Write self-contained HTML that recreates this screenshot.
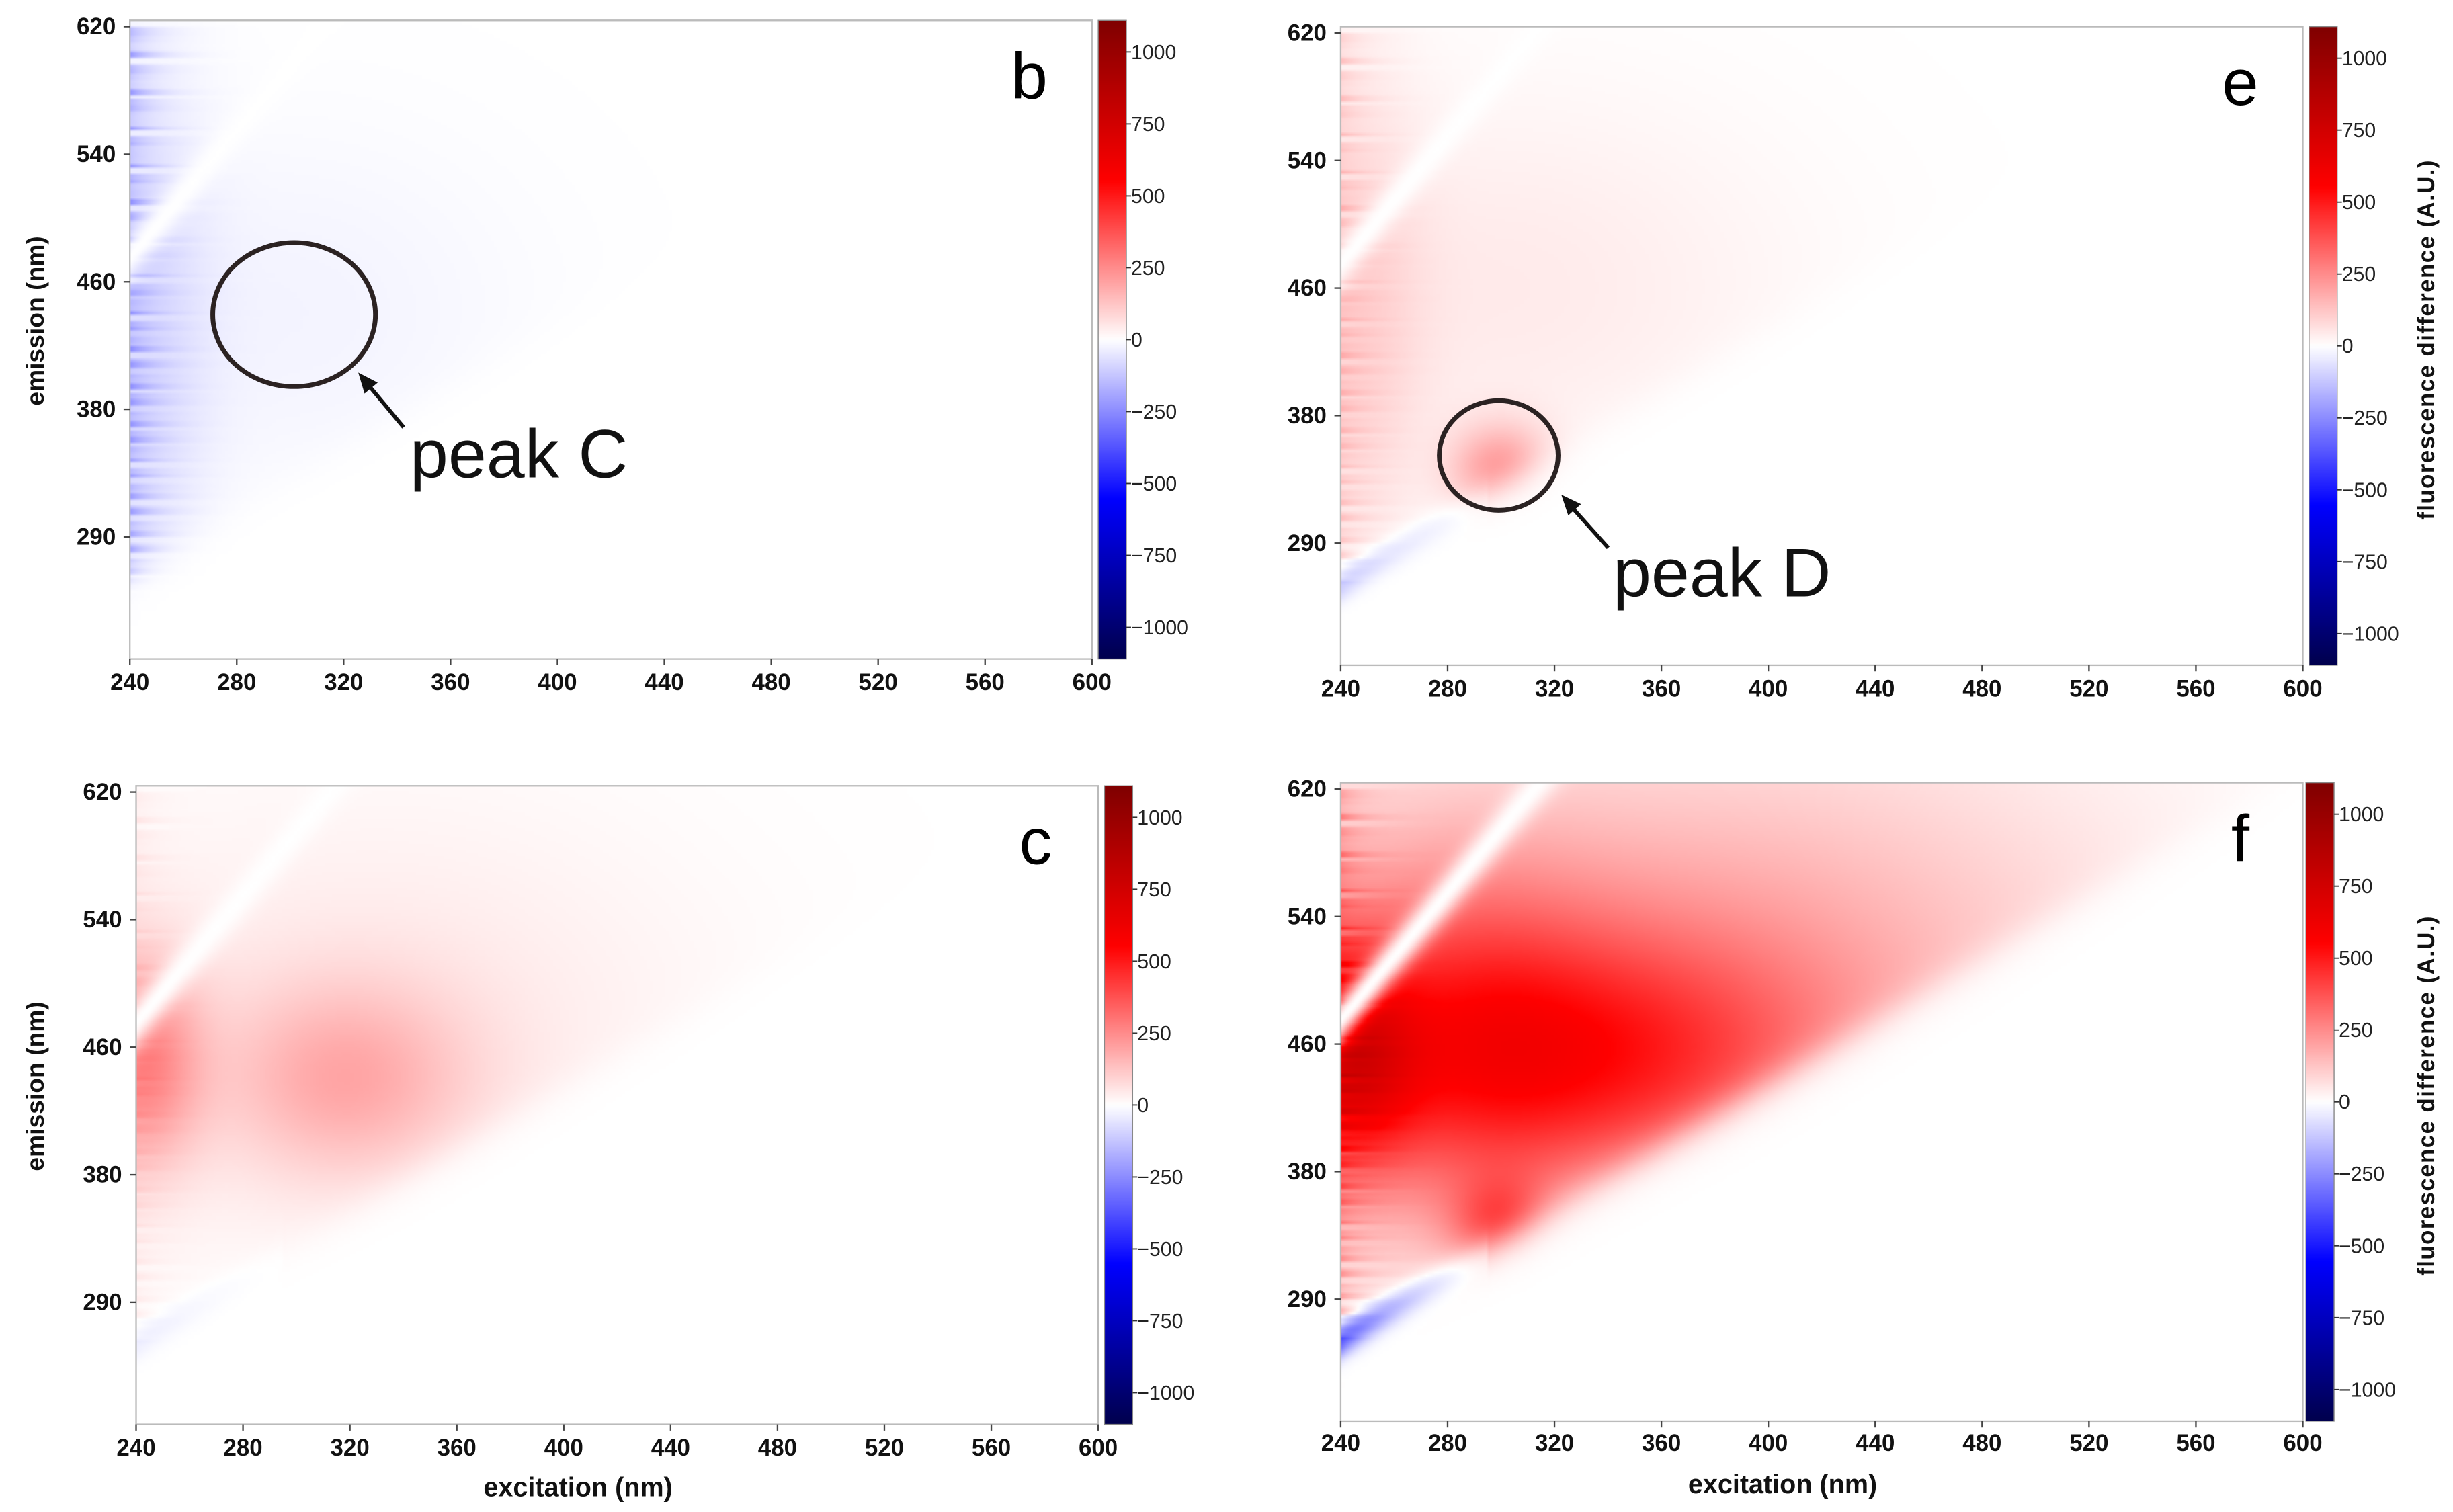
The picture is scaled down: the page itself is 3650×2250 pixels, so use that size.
<!DOCTYPE html>
<html><head><meta charset="utf-8">
<style>
html,body{margin:0;padding:0;background:#fff;}
#root{position:relative;width:1568px;height:966px;transform:scale(2.3278,2.3292);transform-origin:0 0;font-family:"Liberation Sans",sans-serif;overflow:hidden;}
canvas{position:absolute;image-rendering:auto;}
svg{position:absolute;left:0;top:0;}
</style></head>
<body>
<div id="root">
<canvas id="cv-b"></canvas>
<canvas id="cv-e"></canvas>
<canvas id="cv-c"></canvas>
<canvas id="cv-f"></canvas>
<canvas id="cb-b"></canvas>
<canvas id="cb-e"></canvas>
<canvas id="cb-c"></canvas>
<canvas id="cb-f"></canvas>
<svg id="ov" width="1568" height="966"></svg>
</div>
<script>
// ---- data ----
const exTicks = [240,280,320,360,400,440,480,520,560,600];
const emTickValues = [620,540,460,380,300];
const emTickLabels = ['620','540','460','380','290'];
const cbTicks = [1000,750,500,250,0,-250,-500,-750,-1000];
const cbTickLabels = ['1000','750','500','250','0','\u2212250','\u2212500','\u2212750','\u22121000'];
// peaks per panel: excitation, emission, amplitude, ex-spread, em-spread
const peaksB_ex = [300, 250], peaksB_em = [440, 420], peaksB_amp = [-25, -50], peaksB_sx = [60, 15], peaksB_sy = [80, 110];
const peaksE_ex = [300, 300, 250], peaksE_em = [345, 460, 430], peaksE_amp = [220, 45, 60], peaksE_sx = [13, 75, 15], peaksE_sy = [20, 85, 110];
const peaksC_ex = [243, 318, 330], peaksC_em = [450, 440, 470], peaksC_amp = [230, 150, 50], peaksC_sx = [15, 32, 85], peaksC_sy = [45, 42, 100];
const peaksF_ex = [245, 280, 345, 300, 380], peaksF_em = [450, 460, 450, 345, 500], peaksF_amp = [380, 300, 300, 260, 190], peaksF_sx = [16, 40, 55, 13, 105], peaksF_sy = [45, 80, 55, 20, 105];
const streakAmpB = -230, streakAmpE = 130, streakAmpC = 50, streakAmpF = 220;
const blueBandF = -420, blueBandC = -50;

const VMAX = 1110;
const panels = [
 {id:'b', L:83, T:13, W:615, H:408, letter:'b', px:[peaksB_ex,peaksB_em,peaksB_amp,peaksB_sx,peaksB_sy], streak:streakAmpB, band:0, cbx:702, yTitle:true, xTitle:false, cbTitle:false, xlabY:436},
 {id:'e', L:857, T:17, W:615, H:408, letter:'e', px:[peaksE_ex,peaksE_em,peaksE_amp,peaksE_sx,peaksE_sy], streak:streakAmpE, band:-150, cbx:1476, yTitle:false, xTitle:false, cbTitle:true, xlabY:440},
 {id:'c', L:87, T:502, W:615, H:408, letter:'c', px:[peaksC_ex,peaksC_em,peaksC_amp,peaksC_sx,peaksC_sy], streak:streakAmpC, band:blueBandC, cbx:706, yTitle:true, xTitle:true, cbTitle:false, xlabY:925},
 {id:'f', L:857, T:500, W:615, H:408, letter:'f', px:[peaksF_ex,peaksF_em,peaksF_amp,peaksF_sx,peaksF_sy], streak:streakAmpF, band:blueBandF, cbx:1474, yTitle:false, xTitle:true, cbTitle:true, xlabY:922}
];
function seismic(v){
  let t=(v+VMAX)/(2*VMAX); t=Math.max(0,Math.min(1,t));
  const st=[[0,0,0,77],[0.25,0,0,255],[0.5,255,255,255],[0.75,255,0,0],[1,128,0,0]];
  for(let i=0;i<4;i++){ if(t<=st[i+1][0]){ const a=st[i],b=st[i+1],f=(t-a[0])/(b[0]-a[0]);
    return [a[1]+(b[1]-a[1])*f,a[2]+(b[2]-a[2])*f,a[3]+(b[3]-a[3])*f]; } }
  return [128,0,0];
}
function sx(p,ex){return p.L + (ex-240)/360*p.W;}
function emY(p,em){return p.T + 4 + (620-em)/80*81.5;}
function yEm(p,y){return 620-(y-p.T-4)/81.5*80;}
function fieldVal(p,ex,em){
  let v=0; const [E,M,A,SX,SY]=p.px;
  for(let i=0;i<E.length;i++){ const dx=(ex-E[i])/SX[i], dy=(em-M[i])/SY[i]; v+=A[i]*Math.exp(-0.5*(dx*dx+dy*dy)); }
  const row=Math.floor(em/3.3); const s=0.5+0.5*Math.sin(row*2.7)*Math.cos(row*0.9);
  v += p.streak*s*Math.exp(-Math.max(0,ex-240)/9)*(em>270?1:0.3);
  const lower = 1/(1+Math.exp(-(em-(ex+35))/8));
  v*=lower;
  const d2=em-2*ex; v*= (1-Math.exp(-Math.pow((d2+5)/16,2)));
  if(p.band){ const dd=em-(ex+35); v+= p.band*Math.exp(-dd*dd/120)*Math.exp(-Math.max(0,ex-240)/25)*(ex<295?1:0); }
  return v;
}
panels.forEach(p=>{
  const c=document.getElementById('cv-'+p.id); const RW=308, RH=204;
  c.width=RW; c.height=RH; c.style.left=p.L+'px'; c.style.top=p.T+'px'; c.style.width=p.W+'px'; c.style.height=p.H+'px';
  const ctx=c.getContext('2d'); const img=ctx.createImageData(RW,RH);
  for(let j=0;j<RH;j++){ const em=yEm(p,p.T+(j+0.5)*p.H/RH);
    for(let i=0;i<RW;i++){ const ex=240+(i+0.5)/RW*360; const col=seismic(fieldVal(p,ex,em)); const k=(j*RW+i)*4;
      img.data[k]=col[0];img.data[k+1]=col[1];img.data[k+2]=col[2];img.data[k+3]=255; } }
  ctx.putImageData(img,0,0);
  const cb=document.getElementById('cb-'+p.id); cb.width=1; cb.height=200;
  cb.style.left=p.cbx+'px'; cb.style.top=p.T+'px'; cb.style.width='18px'; cb.style.height=p.H+'px';
  const cx=cb.getContext('2d'); for(let j=0;j<200;j++){ const col=seismic(VMAX-(j+0.5)/200*2*VMAX); cx.fillStyle=`rgb(${col[0]|0},${col[1]|0},${col[2]|0})`; cx.fillRect(0,j,1,1); }
});
const NS='http://www.w3.org/2000/svg'; const ov=document.getElementById('ov');
function el(tag,attrs,txt){const e=document.createElementNS(NS,tag); for(const k in attrs)e.setAttribute(k,attrs[k]); if(txt!==undefined)e.textContent=txt; ov.appendChild(e); return e;}
panels.forEach(p=>{
  const fr=el('rect',{x:p.L,y:p.T,width:p.W,height:p.H,fill:'none',stroke:'#bbb','stroke-width':1});
   
  exTicks.forEach(v=>{ const x=sx(p,v);
    el('line',{x1:x,y1:p.T+p.H,x2:x,y2:p.T+p.H+4,stroke:'#444','stroke-width':1});
    const t=el('text',{x:x,y:p.xlabY+5,'text-anchor':'middle','font-size':15,'font-weight':'bold',fill:'#111'},String(v));
      });
  emTickValues.forEach((v,i)=>{ const y=emY(p,v);
    el('line',{x1:p.L-4,y1:y,x2:p.L,y2:y,stroke:'#444','stroke-width':1});
    const t=el('text',{x:p.L-9,y:y+5,'text-anchor':'end','font-size':15,'font-weight':'bold',fill:'#111'},emTickLabels[i]);
      });
  el('rect',{x:p.cbx,y:p.T,width:18,height:p.H,fill:'none',stroke:'#888','stroke-width':0.6});
  cbTicks.forEach((v,i)=>{ const y=p.T+(VMAX-v)/(2*VMAX)*p.H;
    el('line',{x1:p.cbx+18,y1:y,x2:p.cbx+21,y2:y,stroke:'#333','stroke-width':0.8});
    const t=el('text',{x:p.cbx+21,y:y+4.5,'font-size':13,fill:'#222'},cbTickLabels[i]);
      });
  const lt=el('text',{x:p.L+p.W-40,y:p.T+50,'text-anchor':'middle','font-size':42,fill:'#000'},p.letter);
   
  if(p.yTitle){ const cy=p.T+p.H/2-12; const t=el('text',{x:0,y:0,transform:`translate(28,${cy}) rotate(-90)`,'text-anchor':'middle','font-size':16,'font-weight':'bold',fill:'#111'},'emission (nm)');
      }
  if(p.xTitle){ const t=el('text',{x:p.L+p.W/2-25,y:p.T+p.H+46,'text-anchor':'middle','font-size':17,'font-weight':'bold',fill:'#111'},'excitation (nm)');
      }
  if(p.cbTitle){ const t=el('text',{x:0,y:0,transform:`translate(1556,${p.T+p.H/2-4}) rotate(-90)`,'text-anchor':'middle','font-size':15,'font-weight':'bold',fill:'#111','letter-spacing':'0.6'},'fluorescence difference  (A.U.)');
      }
});
function ann(cx,cy,rx,ry,ax1,ay1,ax2,ay2,tx,ty,label,name){
  const e=el('ellipse',{cx:cx,cy:cy,rx:rx,ry:ry,fill:'none',stroke:'#2b2222','stroke-width':3});
   
  el('line',{x1:ax1,y1:ay1,x2:ax2+4,y2:ay2+5,stroke:'#111','stroke-width':2.5});
  const ang=Math.atan2(ay2-ay1,ax2-ax1), L=14, w=0.4;
  el('polygon',{points:`${ax2},${ay2} ${ax2-L*Math.cos(ang-w)},${ay2-L*Math.sin(ang-w)} ${ax2-L*Math.cos(ang+w)},${ay2-L*Math.sin(ang+w)}`,fill:'#111'});
  const t=el('text',{x:tx,y:ty,'font-size':44,fill:'#111'},label);
   
}
ann(188,201,52,46,258,273,229,238,262,305,'peak C','peak-c');
ann(958,291,38,35,1028,350,998,316,1031,381,'peak D','peak-d');
</script>
</body></html>
